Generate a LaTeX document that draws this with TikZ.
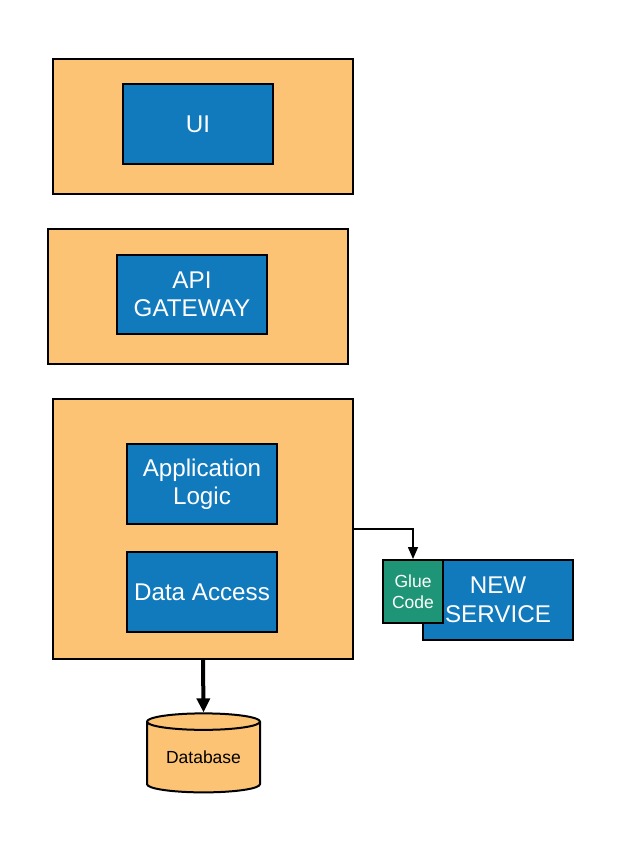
\documentclass[tikz,border=0pt]{standalone}
\usepackage{fontspec}
\setmainfont{Liberation Sans}
\usepackage{tikz}
\usetikzlibrary{arrows.meta,shapes.geometric}
\definecolor{tier}{HTML}{FDC374}
\definecolor{part}{HTML}{117ABD}
\definecolor{glue}{HTML}{1E9576}
\tikzset{
	tierbox/.style 2 args={draw,line width=2pt,fill=tier,minimum width=#1,minimum height=#2,inner sep=0pt},
	partbox/.style 2 args={draw,line width=2pt,fill=part,text=white,minimum width=#1,minimum height=#2,inner sep=0pt,align=center,font=\fontsize{24.2}{28.5}\selectfont},
	gluebox/.style={draw,line width=2pt,fill=glue,text=white,minimum width=60pt,minimum height=63pt,inner sep=0pt,align=center,font=\fontsize{17.5}{21}\selectfont}
}
\begin{document}
\begin{tikzpicture}[x=1pt,y=-1pt]
	\useasboundingbox (0,0) rectangle (622,853);
	\fill[white] (0,0) rectangle (622,853);

	\node [tierbox={300pt}{135pt}] (uitier) at (203, 126.5) {};
	\node [partbox={150pt}{80pt}] (ui) at (198, 124) {UI};

	\node [tierbox={300pt}{135pt}] (apitier) at (198, 296.5) {};
	\node [partbox={150pt}{79pt}] (api) at (192, 294.5) {API\\GATEWAY};

	\node [tierbox={300pt}{260pt}] (apptier) at (203, 529) {};
	\node [partbox={150pt}{80pt}] (logic) at (202, 484) {Application\\Logic};
	\node [partbox={150pt}{80pt}] (access) at (202, 592) {Data Access};

	\node [partbox={150pt}{80pt}] (newsvc) at (498, 600) {NEW\\SERVICE};
	\node [gluebox] (gluecode) at (413, 591.5) {Glue\\Code};

	\node [cylinder,shape border rotate=90,aspect=0.22,draw,line width=2pt,fill=tier,
		minimum width=113pt,minimum height=79pt,inner sep=0pt,
		font=\fontsize{17.5}{21}\selectfont] (db) at (203.5, 757.5) {Database};

	\draw [line width=1.5pt,-{Triangle[length=12pt,width=10pt]}] (apptier.east) -| (gluecode.north);
	\draw [line width=4pt,-{Triangle[length=14pt,width=13pt]}] (apptier.south) -- (db.north);
\end{tikzpicture}
\end{document}
